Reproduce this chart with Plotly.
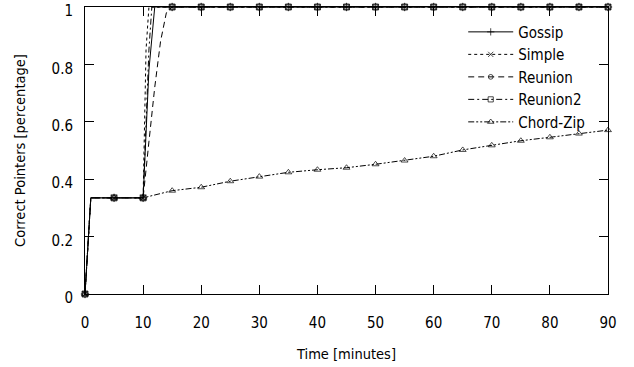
import plotly.graph_objects as go

# Data (time in minutes, fraction of correct pointers)
gossip_t = [0, 1, 5, 10, 11, 12, 15, 20, 25, 30, 35, 40, 45, 50, 55, 60, 65, 70, 75, 80, 85, 90]
gossip_y = [0, 0.335, 0.335, 0.335, 0.78, 1, 1, 1, 1, 1, 1, 1, 1, 1, 1, 1, 1, 1, 1, 1, 1, 1]

simple_t = [0, 1, 5, 10, 10.5, 11, 15, 20, 25, 30, 35, 40, 45, 50, 55, 60, 65, 70, 75, 80, 85, 90]
simple_y = [0, 0.335, 0.335, 0.335, 0.85, 1, 1, 1, 1, 1, 1, 1, 1, 1, 1, 1, 1, 1, 1, 1, 1, 1]

reunion_t = [0, 1, 5, 10, 11, 12, 13, 14, 15, 20, 25, 30, 35, 40, 45, 50, 55, 60, 65, 70, 75, 80, 85, 90]
reunion_y = [0, 0.335, 0.335, 0.335, 0.53, 0.72, 0.88, 0.98, 1, 1, 1, 1, 1, 1, 1, 1, 1, 1, 1, 1, 1, 1, 1, 1]

reunion2_t = [0, 1, 5, 10, 11, 11.5, 15, 20, 25, 30, 35, 40, 45, 50, 55, 60, 65, 70, 75, 80, 85, 90]
reunion2_y = [0, 0.335, 0.335, 0.335, 0.85, 1, 1, 1, 1, 1, 1, 1, 1, 1, 1, 1, 1, 1, 1, 1, 1, 1]

chord_t = [0, 1, 5, 10, 15, 20, 25, 30, 35, 40, 45, 50, 55, 60, 65, 70, 75, 80, 85, 90]
chord_y = [0, 0.335, 0.335, 0.335, 0.360, 0.372, 0.393, 0.409, 0.424, 0.433, 0.440, 0.452,
           0.465, 0.480, 0.502, 0.518, 0.534, 0.546, 0.559, 0.571]

x_ticks = [0, 10, 20, 30, 40, 50, 60, 70, 80, 90]
y_ticks = [0, 0.2, 0.4, 0.6, 0.8, 1]

series = [
    ("Gossip", gossip_t, gossip_y, "solid", "cross-thin-open"),
    ("Simple", simple_t, simple_y, "dot", "x-thin-open"),
    ("Reunion", reunion_t, reunion_y, "6px,4px", "circle-open"),
    ("Reunion2", reunion2_t, reunion2_y, "6px,3px,2px,3px", "square-open"),
    ("Chord-Zip", chord_t, chord_y, "6px,2px,2px,2px,2px,2px", "triangle-up-open"),
]

fig = go.Figure()
for name, t, y, dash, sym in series:
    sizes = [6 if (float(v) % 5 == 0) else 0 for v in t]
    fig.add_trace(go.Scatter(
        x=t, y=y, name=name, mode="lines+markers",
        line=dict(color="black", width=1, dash=dash),
        marker=dict(symbol=sym, size=sizes, color="black", line=dict(color="black", width=1)),
        cliponaxis=False,
    ))

font = "DejaVu Sans Condensed, DejaVu Sans, sans-serif"
fig.update_layout(
    width=634, height=367,
    margin=dict(l=85, r=26, t=7, b=73, autoexpand=False),
    paper_bgcolor="white", plot_bgcolor="white",
    font=dict(family=font, size=15, color="black"),
    showlegend=True,
    legend=dict(x=0.966, y=0.97, xanchor="right", yanchor="top",
                bgcolor="rgba(0,0,0,0)", font=dict(size=15),
                itemwidth=45, tracegroupgap=0),
)
fig.update_xaxes(
    range=[0, 90], tickvals=x_ticks, ticks="inside", ticklen=9, tickwidth=1,
    tickcolor="black", showline=True, linecolor="black", linewidth=1, mirror="ticks",
    showgrid=False, zeroline=False, ticklabelstandoff=15, ticklabeloverflow="allow",
    automargin=False,
    title=dict(text="Time [minutes]", font=dict(size=14.5), standoff=17),
)
fig.update_yaxes(
    range=[0, 1], tickvals=y_ticks, ticks="inside", ticklen=9, tickwidth=1,
    tickcolor="black", showline=True, linecolor="black", linewidth=1, mirror="ticks",
    showgrid=False, zeroline=False, ticklabelstandoff=8, ticklabeloverflow="allow",
    ticklabelshift=4, automargin=False,
    title=dict(text="Correct Pointers [percentage]", font=dict(size=14.5), standoff=22),
)

fig.write_html("out.html")
